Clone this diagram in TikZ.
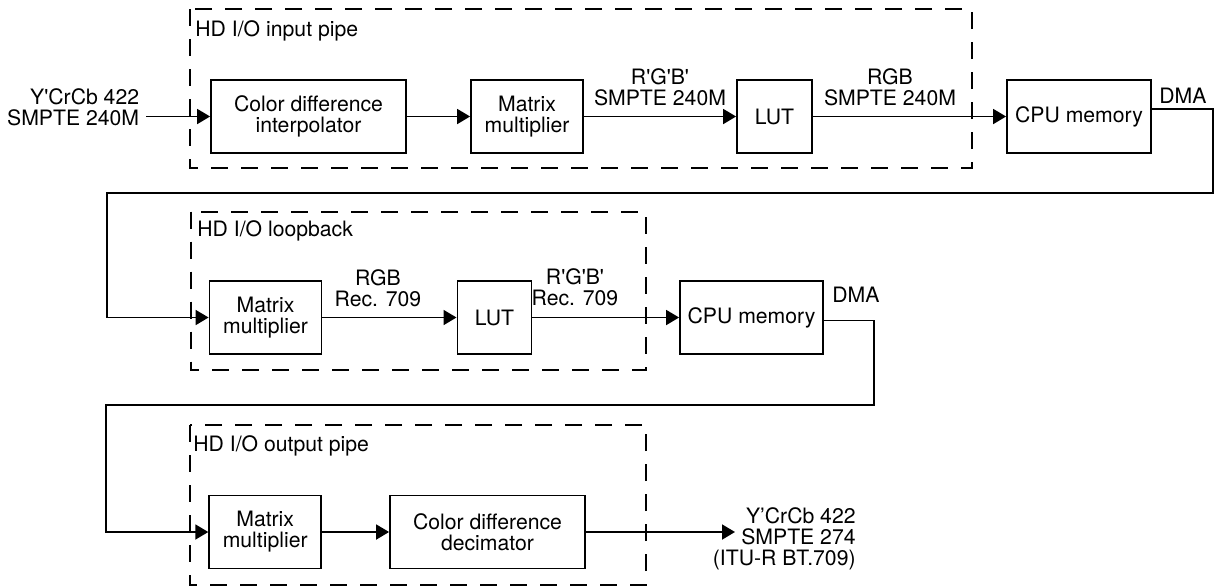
\documentclass[tikz,border=0pt]{standalone}
\usepackage{fontspec}
\setmainfont{TeX Gyre Heros}
\usetikzlibrary{arrows.meta, positioning}

\newcommand{\pr}{\textquotesingle}

\begin{document}
\begin{tikzpicture}[
    x=0.5pt, y=-0.5pt,
    >={Triangle[length=6.5pt, width=7.5pt]},
    font=\fontsize{10.6}{10.5}\selectfont,
    blk/.style={draw, line width=0.9pt, inner sep=0pt, align=center, minimum height=36.5pt},
    pipe/.style={line width=0.9pt, dash pattern=on 8.5pt off 6.5pt},
    wire/.style={line width=0.9pt},
    lbl/.style={inner sep=0pt, align=center, anchor=south},
    ttl/.style={inner sep=0pt, anchor=base west},
]
\useasboundingbox (0,0) rectangle (1217,586);
% === Row 1: input pipe ===
\draw[pipe] (190,9) rectangle (972,168);
\node[ttl] (ttlin) at (195,36.7) {HD I/O input pipe};
\node[inner sep=0pt, align=right, anchor=north east] (inlbl) at (139.5,88) {Y\pr CrCb 422\\SMPTE 240M};
\coordinate (inp) at (146,116.5);
\node[blk, minimum width=97.5pt] (cdi) at (308.5,116.5) {Color difference\\interpolator};
\node[blk, minimum width=56pt] (mm1) at (527,116.5) {Matrix\\multiplier};
\node[blk, minimum width=37.5pt] (lut1) at (774.5,116.5) {LUT};
\node[blk, minimum width=72pt] (cpu1) at (1079,116.5) {CPU memory};
\node[lbl] (l1a) at (660,106.7) {R\pr G\pr B\pr\\SMPTE 240M};
\node[lbl] (l1b) at (890,106) {RGB\\SMPTE 240M};
\node[ttl] (dma1lbl) at (1159,103.3) {DMA};
\draw[wire, ->] (inp) -- (cdi);
\draw[wire, ->] (cdi) -- (mm1);
\draw[wire, ->] (mm1) -- (lut1);
\draw[wire, ->] (lut1) -- (cpu1);
% === Row 2: loopback ===
\draw[pipe] (190.7,211.7) rectangle (646,370);
\node[ttl] (ttlloop) at (197,236.7) {HD I/O loopback};
\node[blk, minimum width=56pt] (mm2) at (265.5,317.5) {Matrix\\multiplier};
\node[blk, minimum width=37pt] (lut2) at (494.4,317.5) {LUT};
\node[blk, minimum width=71.5pt] (cpu2) at (751.5,317.5) {CPU memory};
\node[lbl] (l2a) at (378,307) {RGB\\Rec. 709};
\node[lbl] (l2b) at (575,306) {R\pr G\pr B\pr\\Rec. 709};
\node[ttl] (dma2lbl) at (832,302.3) {DMA};
\draw[wire, ->] (mm2) -- (lut2);
\draw[wire, ->] (lut2) -- (cpu2);
% DMA return to loopback
\coordinate (dma1) at (1213,193);
\coordinate (ret1) at (107,193);
\draw[wire, ->] ([yshift=3.75pt]cpu1.east) -| (dma1) -- (ret1) |- (mm2);
% === Row 3: output pipe ===
\draw[pipe] (190,425) rectangle (646,585);
\node[ttl] (ttlout) at (193,451) {HD I/O output pipe};
\node[blk, minimum width=56pt] (mm3) at (265.2,532) {Matrix\\multiplier};
\node[blk, minimum width=97.5pt] (cdd) at (487.5,532) {Color difference\\decimator};
\coordinate (outp) at (735,532);
\node[inner sep=0pt, align=right, anchor=north east] (outlbl) at (856,507.5) {Y’CrCb 422\\SMPTE 274\\(ITU-R BT.709)};
\draw[wire, ->] (mm3) -- (cdd);
\draw[wire, ->] (cdd) -- (outp);
% DMA return to output pipe
\coordinate (dma2) at (874,405);
\coordinate (ret2) at (106,405);
\draw[wire, ->] ([yshift=-1.5pt]cpu2.east) -| (dma2) -- (ret2) |- (mm3);
\end{tikzpicture}
\end{document}
